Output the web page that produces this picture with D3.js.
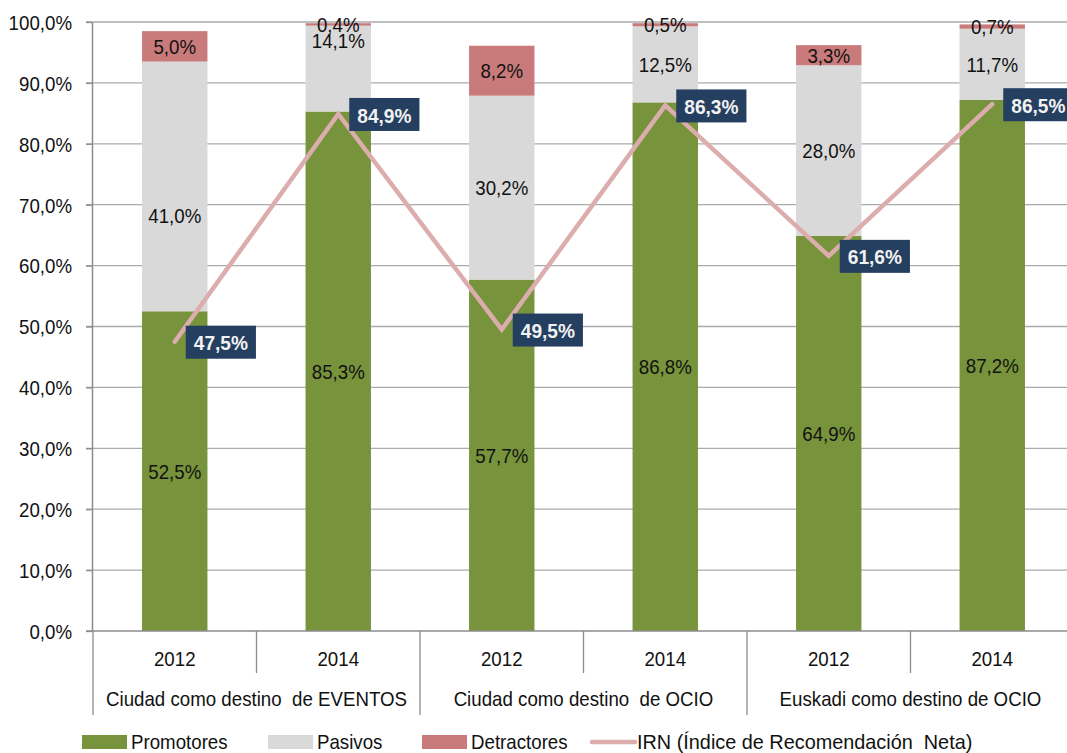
<!DOCTYPE html>
<html>
<head>
<meta charset="utf-8">
<script src="https://cdn.jsdelivr.net/npm/d3@7/dist/d3.min.js"></script>
<style>
  body { margin: 0; background: #fff; }
  svg { display: block; font-family: "Liberation Sans", Arial, sans-serif; }
</style>
</head>
<body>
<div id="chart"></div>
<script>
const years = ["2012", "2014", "2012", "2014", "2012", "2014"];
const groups = ["Ciudad como destino  de EVENTOS", "Ciudad como destino  de OCIO", "Euskadi como destino de OCIO"];
const promotores = [52.5, 85.3, 57.7, 86.8, 64.9, 87.2];
const pasivos = [41.0, 14.1, 30.2, 12.5, 28.0, 11.7];
const detractores = [5.0, 0.4, 8.2, 0.5, 3.3, 0.7];
const irn = [47.5, 84.9, 49.5, 86.3, 61.6, 86.5];
// labels moved by hand in the original (percentage points)
const pasivosLabelShift = [-4.7, 4.7, 0, 0, 0, 0];
const yTicks = [0, 10, 20, 30, 40, 50, 60, 70, 80, 90, 100];

const W = 1067, H = 753;
const FS = 21;
const fmt = v => v.toFixed(1).replace(".", ",") + "%";

// the original font is a condensed Arial; squeeze glyphs horizontally
function squeeze(sel, k = 0.89) {
  sel.each(function () {
    const len = this.getComputedTextLength();
    d3.select(this).attr("textLength", len * k).attr("lengthAdjust", "spacingAndGlyphs");
  });
  return sel;
}

const svg = d3.select("#chart").append("svg")
    .attr("width", W)
    .attr("height", H);

const x = d3.scaleBand().domain(d3.range(years.length)).range([93, 1074]).padding(0);
const y = d3.scaleLinear().domain([0, 100]).range([631, 22]);
const barW = x.bandwidth() * 0.4;
const cx = i => x(i) + x.bandwidth() / 2;

// gridlines
svg.append("g").selectAll("line")
    .data(yTicks.filter(d => d > 0))
    .join("line")
    .attr("x1", 86).attr("x2", W)
    .attr("y1", d => y(d)).attr("y2", d => y(d))
    .attr("stroke", "#ababab").attr("stroke-width", 1.3);

// y axis
const yAxis = d3.axisLeft(y).tickValues(yTicks).tickFormat(fmt).tickSize(6).tickSizeOuter(0);
const ya = svg.append("g").attr("transform", "translate(92,0)").call(yAxis);
ya.select(".domain").attr("stroke", "#8c8c8c").attr("stroke-width", 1.5);
ya.selectAll(".tick line").attr("stroke", "#8c8c8c").attr("stroke-width", 1.3);
ya.selectAll(".tick text").attr("font-size", FS).attr("fill", "#111").attr("x", -20).attr("dy", "0.35em")
    .style("font-family", "inherit");
squeeze(ya.selectAll(".tick text"));

// stacks
const series = [
  { key: "Promotores", vals: promotores, color: "#77933c" },
  { key: "Pasivos", vals: pasivos, color: "#d9d9d9" },
  { key: "Detractores", vals: detractores, color: "#c97b7b" }
];
const bars = svg.append("g");
const labels = svg.append("g");
years.forEach((yr, i) => {
  let base = 0;
  series.forEach((s, si) => {
    const v = s.vals[i];
    bars.append("rect")
        .attr("x", cx(i) - barW / 2)
        .attr("width", barW)
        .attr("y", y(base + v))
        .attr("height", y(base) - y(base + v))
        .attr("fill", s.color);
    const mid = base + v / 2 + (si === 1 ? pasivosLabelShift[i] : 0);
    labels.append("text")
        .attr("x", cx(i))
        .attr("y", y(mid))
        .attr("dy", "0.36em")
        .attr("text-anchor", "middle")
        .attr("font-size", FS)
        .attr("fill", "#111")
        .text(fmt(v))
        .call(squeeze);
    base += v;
  });
});

// x axis
svg.append("line").attr("x1", 86).attr("x2", W).attr("y1", y(0)).attr("y2", y(0))
    .attr("stroke", "#8c8c8c").attr("stroke-width", 1.5);
years.forEach((yr, i) => {
  const left = x(i);
  const groupStart = i % 2 === 0;
  svg.append("line")
      .attr("x1", left).attr("x2", left)
      .attr("y1", y(0)).attr("y2", groupStart ? 715 : 673)
      .attr("stroke", "#8c8c8c").attr("stroke-width", 1.3);
  svg.append("text")
      .attr("x", cx(i)).attr("y", 659).attr("dy", "0.35em")
      .attr("text-anchor", "middle").attr("font-size", FS).attr("fill", "#111")
      .text(yr)
      .call(squeeze);
});
groups.forEach((g, gi) => {
  svg.append("text")
      .attr("x", x(gi * 2) + x.bandwidth()).attr("y", 699).attr("dy", "0.35em")
      .attr("text-anchor", "middle").attr("font-size", FS).attr("fill", "#111")
      .attr("xml:space", "preserve")
      .text(g)
      .call(squeeze);
});

// IRN line
const line = d3.line().x((d, i) => cx(i)).y(d => y(d));
svg.append("path")
    .datum(irn)
    .attr("d", line)
    .attr("fill", "none")
    .attr("stroke", "#dcadad")
    .attr("stroke-width", 4.5)
    .attr("stroke-linecap", "round")
    .attr("stroke-linejoin", "miter");

// IRN labels
irn.forEach((v, i) => {
  const g = svg.append("g");
  const t = g.append("text")
      .attr("x", cx(i) + 11 + 8)
      .attr("y", y(v) + 1)
      .attr("dy", "0.36em")
      .attr("font-size", FS)
      .attr("font-weight", "bold")
      .attr("fill", "#f2f2f2")
      .text(fmt(v))
      .call(squeeze, 0.91);
  const w = +t.attr("textLength");
  g.insert("rect", "text")
      .attr("x", cx(i) + 11)
      .attr("y", y(v) - 16)
      .attr("width", w + 16)
      .attr("height", 33)
      .attr("fill", "#243f60");
});

// legend
const legend = svg.append("g");
const leg = [
  { label: "Promotores", color: "#77933c", x: 82, type: "rect" },
  { label: "Pasivos", color: "#d9d9d9", x: 268, type: "rect" },
  { label: "Detractores", color: "#c97b7b", x: 422, type: "rect" },
  { label: "IRN (Índice de Recomendación  Neta)", color: "#dcadad", x: 592, type: "line" }
];
leg.forEach(d => {
  if (d.type === "rect") {
    legend.append("rect").attr("x", d.x).attr("y", 735).attr("width", 45).attr("height", 14).attr("fill", d.color);
  } else {
    legend.append("line").attr("x1", d.x).attr("x2", d.x + 43).attr("y1", 742).attr("y2", 742)
        .attr("stroke", d.color).attr("stroke-width", 4.5).attr("stroke-linecap", "round");
  }
  legend.append("text")
      .attr("x", d.x + (d.type === "rect" ? 49 : 45)).attr("y", 742).attr("dy", "0.35em")
      .attr("font-size", FS).attr("fill", "#111")
      .attr("xml:space", "preserve")
      .text(d.label)
      .call(squeeze, d.type === "rect" ? 0.89 : 0.945);
});
</script>
</body>
</html>
